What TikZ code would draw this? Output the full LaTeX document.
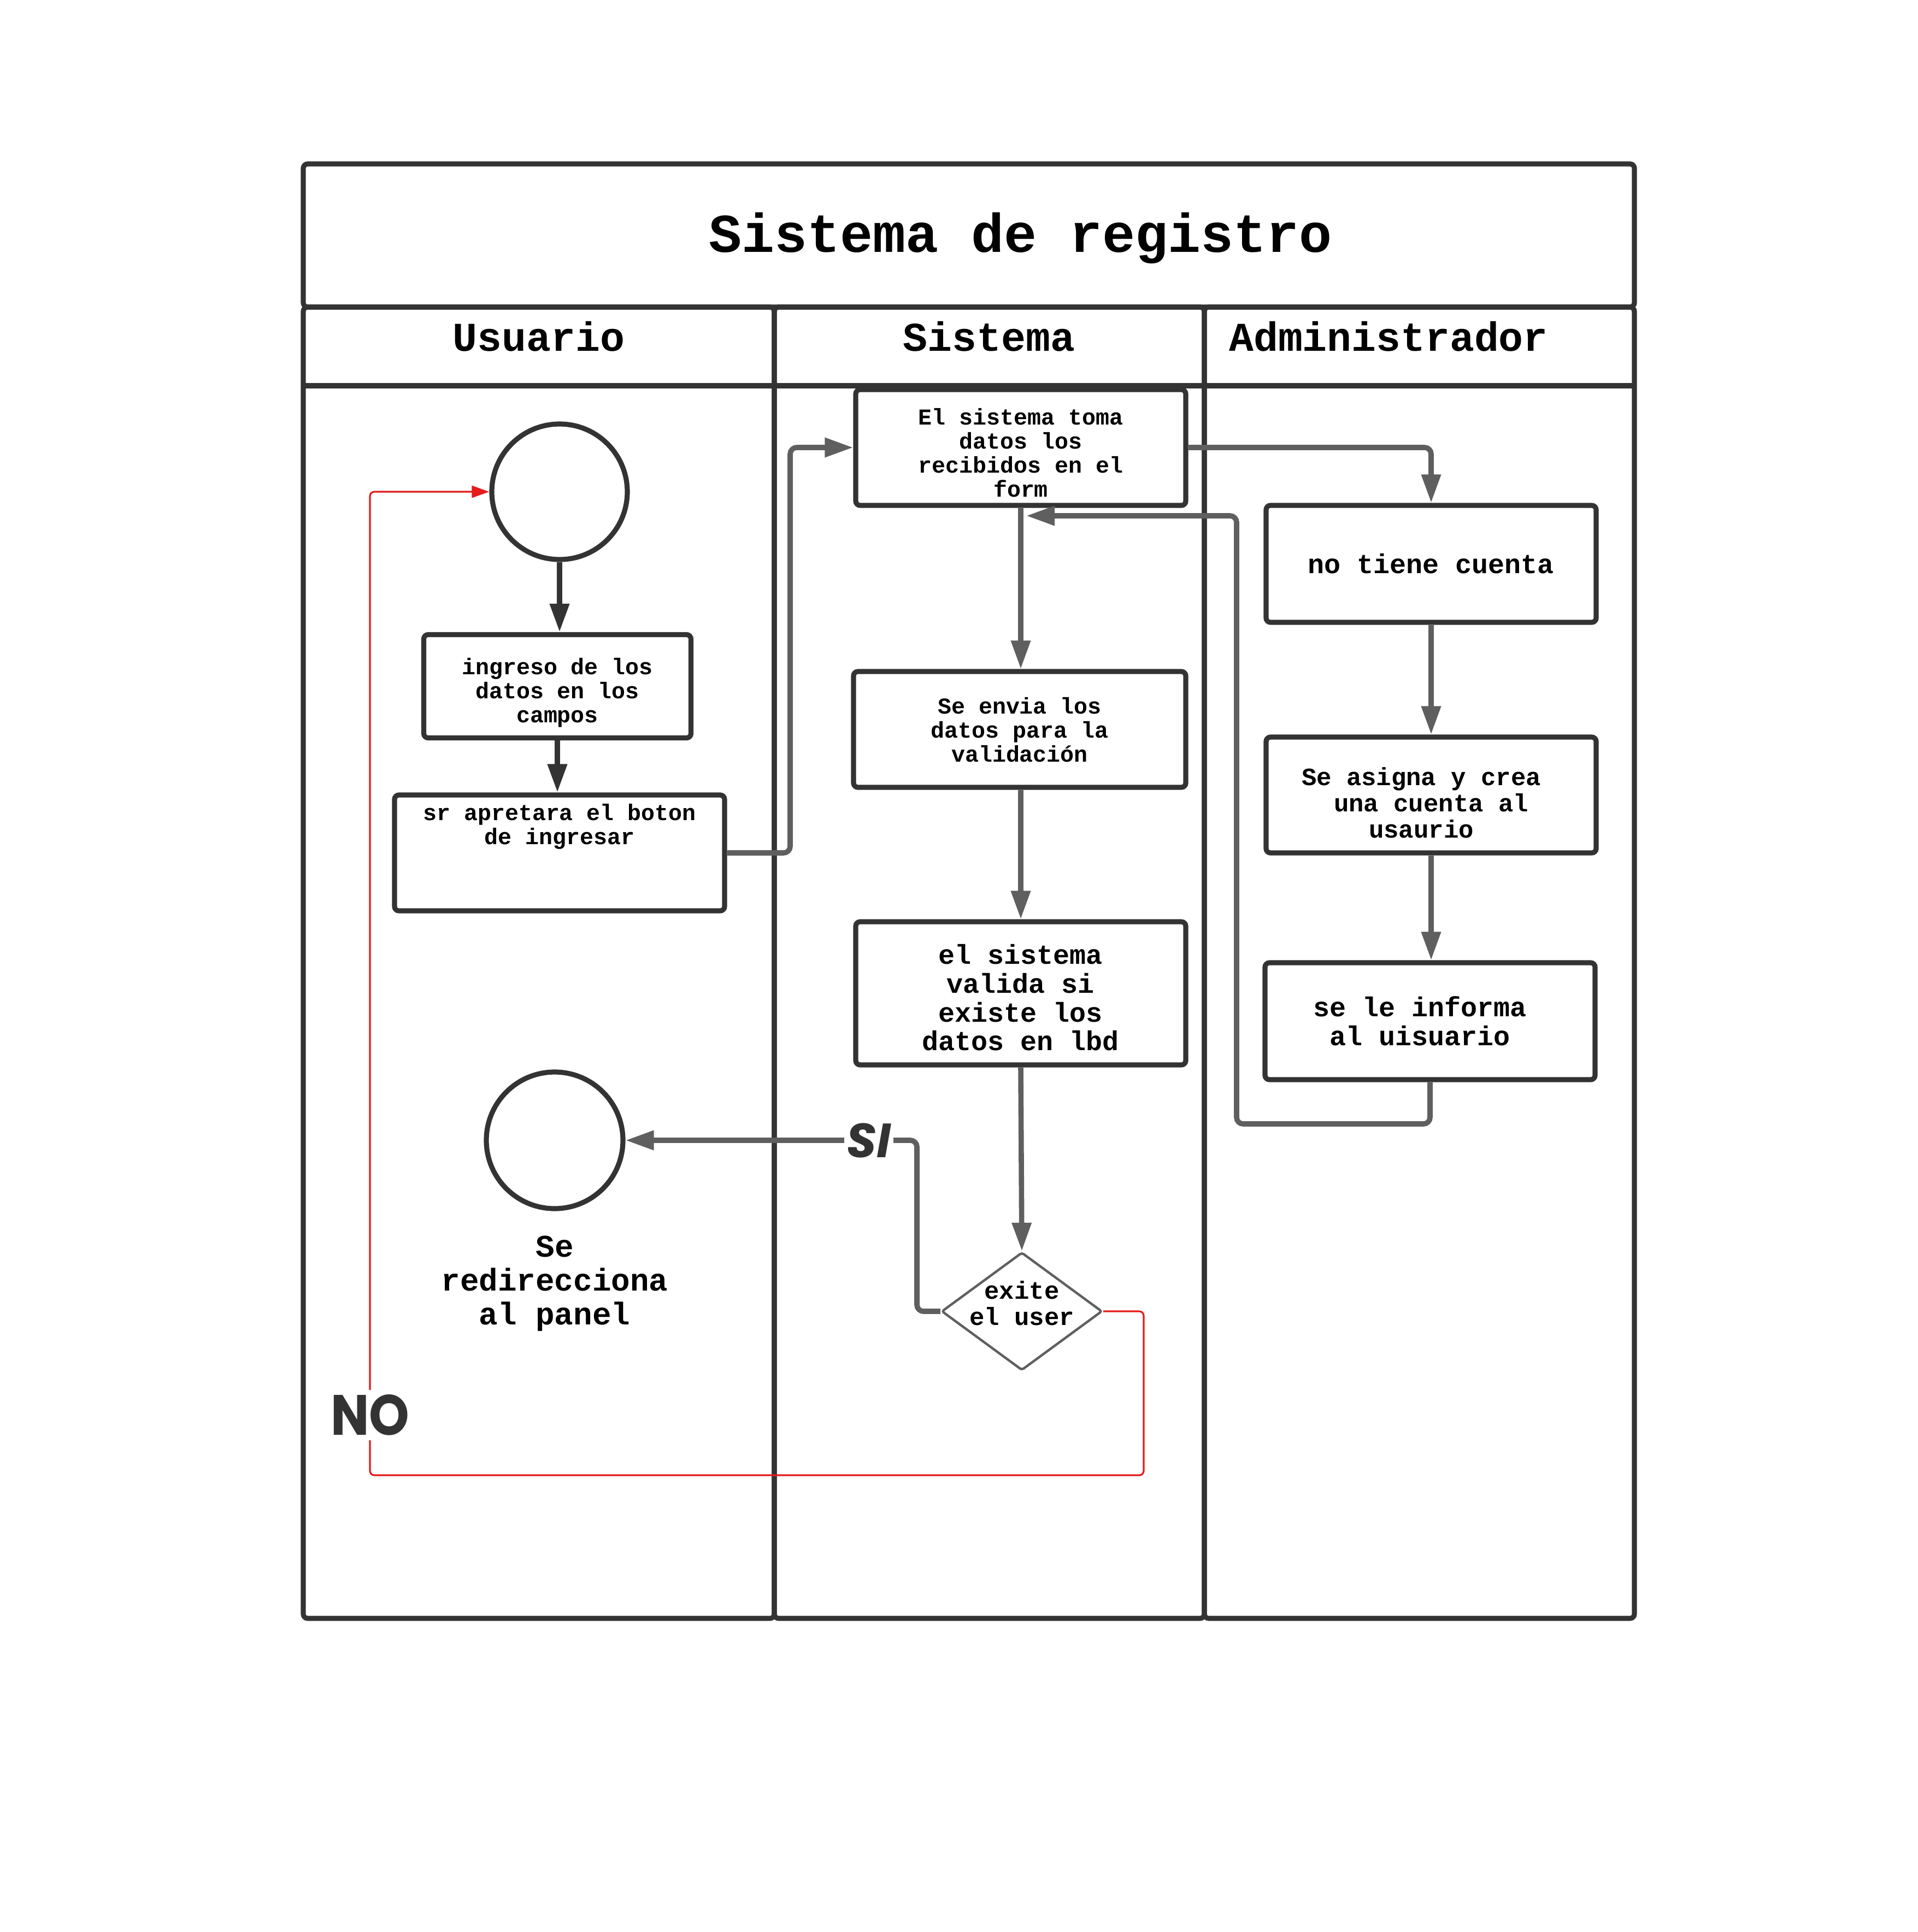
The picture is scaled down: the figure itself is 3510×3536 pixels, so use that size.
\documentclass[tikz,border=0pt]{standalone}
\usepackage{fontspec}
\setmainfont{Liberation Mono}
\newfontfamily\hand{Poppins}
\usetikzlibrary{arrows.meta,shapes.geometric}
\definecolor{dark}{HTML}{333333}
\definecolor{conn}{HTML}{5F5F5F}
\definecolor{redl}{HTML}{E51C1C}
\newcommand\toprl[1]{\rule{0pt}{#1}}
\newcommand\rpad{\hspace*{9pt}}
\begin{document}
\begin{tikzpicture}[x=0.25pt,y=-0.25pt,
  frame/.style={draw=dark,line width=2.3pt,rounded corners=2pt},
  box/.style={draw=dark,line width=2.3pt,rounded corners=2pt,fill=white,inner sep=0pt,align=center,
    font=\bfseries\fontsize{10.4}{11}\selectfont},
  bigbox/.style={box,font=\bfseries\fontsize{12.5}{13.15}\selectfont},
  midbox/.style={box,font=\bfseries\fontsize{11.4}{12.1}\selectfont},
  startc/.style={circle,draw=dark,line width=2.3pt,fill=white,inner sep=0pt},
  darkarrow/.style={draw=dark,line width=2.5pt,-{Triangle[length=13pt,width=8.5pt]}},
  connarrow/.style={draw=conn,line width=2.4pt,rounded corners=3pt,-{Triangle[length=13pt,width=8.5pt]}},
  connline/.style={draw=conn,line width=2.4pt,rounded corners=3pt},
  redarrow/.style={draw=redl,line width=0.8pt,rounded corners=2pt,-{Triangle[length=8pt,width=5.5pt]}},
  redline/.style={draw=redl,line width=0.8pt,rounded corners=2pt},
  hdr/.style={font=\bfseries\fontsize{18.7}{20}\selectfont,inner sep=0pt}
]
\useasboundingbox (0,0) rectangle (3510,3536);
% frame
\draw[frame] (555,300) rectangle (2991,562);
\draw[frame] (555,562) rectangle (1417,2962);
\draw[frame] (1417,562) rectangle (2204,2962);
\draw[frame] (2204,562) rectangle (2991,2962);
\draw[frame] (555,706) -- (2991,706);
\node[font=\bfseries\fontsize{25}{28}\selectfont,inner sep=0pt] (title) at (1868,436) {Sistema de registro};
\node[hdr] (h1) at (986,616) {Usuario};
\node[hdr] (h2) at (1810,616) {Sistema};
\node[hdr] (h3) at (2541,616) {Administrador};
% nodes
\node[startc,minimum size=62pt] (start) at (1024,900) {};
\node[box,minimum width=122.25pt,minimum height=47.25pt,text depth=0pt] (b1) at (1020,1256) {\toprl{11.4pt}ingreso de los\\datos en los\\campos};
\node[box,minimum width=151pt,text height=22.6pt,text depth=30.4pt] (b2) at (1024,1561) {sr apretara el boton\\de ingresar};
\node[box,minimum width=151pt,minimum height=53pt,text depth=0pt] (sys) at (1868,819) {\toprl{12.1pt}El sistema toma\\datos los\\recibidos en el\\form};
\node[box,minimum width=152pt,minimum height=53pt,text depth=0pt] (env) at (1866,1335) {\toprl{7.9pt}Se envia los\\datos para la\\validación};
\node[bigbox,minimum width=151pt,minimum height=65.5pt,text depth=0pt] (val) at (1868,1818) {\toprl{12.9pt}el sistema\\valida si\\existe los\\datos en lbd};
\node[diamond,draw=conn,line width=1.1pt,fill=white,inner sep=-8pt,minimum width=73.5pt,minimum height=54pt,align=center,
  font=\bfseries\fontsize{11.4}{12}\selectfont,text depth=7.3pt,rounded corners=1pt] (dia) at (1870,2400) {exite\\el user};
\node[startc,minimum size=62.5pt] (fin) at (1015,2087) {};
\node[align=center,inner sep=0pt,font=\bfseries\fontsize{14.4}{15.5}\selectfont] (lbl) at (1015,2349) {Se\\redirecciona\\al panel};
\node[bigbox,minimum width=151pt,minimum height=53.5pt] (noc) at (2619,1032) {no tiene cuenta};
\node[midbox,minimum width=151pt,minimum height=53pt,text depth=0pt] (asg) at (2619,1455) {\toprl{15.2pt}Se asigna y crea\rpad\\una cuenta al\rpad\\usaurio\rpad};
\node[bigbox,minimum width=151pt,minimum height=53.5pt] (inf) at (2617,1869) {se le informa\rpad\\al uisuario\rpad};
% connectors
\draw[darkarrow] (start.south) -- (b1.north -| start.south);
\draw[darkarrow] (b1.south) -- (b2.north -| b1.south);
\draw[connarrow] (b2.east) -- (1446,1561) -- (1446,819) -- (sys.west);
\draw[connarrow] (sys.east) -| (noc.north);
\draw[connarrow] (sys.south) -- (env.north -| sys.south);
\draw[connarrow] (env.south -| sys.south) -- (val.north -| sys.south);
\draw[connarrow] (noc.south) -- (asg.north);
\draw[connarrow] (asg.south) -- (inf.north -| asg.south);
\coordinate (ret) at (1878,944);
\draw[connarrow] (inf.south) -- (2617,2057) -- (2263,2057) -- (2263,944) -- (ret);
\draw[connarrow] (val.south) -- (dia.north);
\node[font=\hand\bfseries\itshape\fontsize{22}{24}\selectfont,text=dark,fill=white,inner sep=1pt] (si) at (1590,2087) {SI};
\draw[connline] (dia.west) -- (1678,2400) -- (1678,2087) -- (si.east);
\draw[connarrow] (si.west) -- (fin.east);
\node[font=\hand\bfseries\fontsize{26}{28}\selectfont,text=dark,fill=white,inner sep=2pt] (no) at (677,2590) {\scalebox{0.9}[1]{NO}};
\draw[redline] (dia.east) -- (2093,2400) -- (2093,2700) -- (677,2700) -- (no.south);
\draw[redarrow] (no.north) -- (677,900) -- (start.west);
\end{tikzpicture}
\end{document}
